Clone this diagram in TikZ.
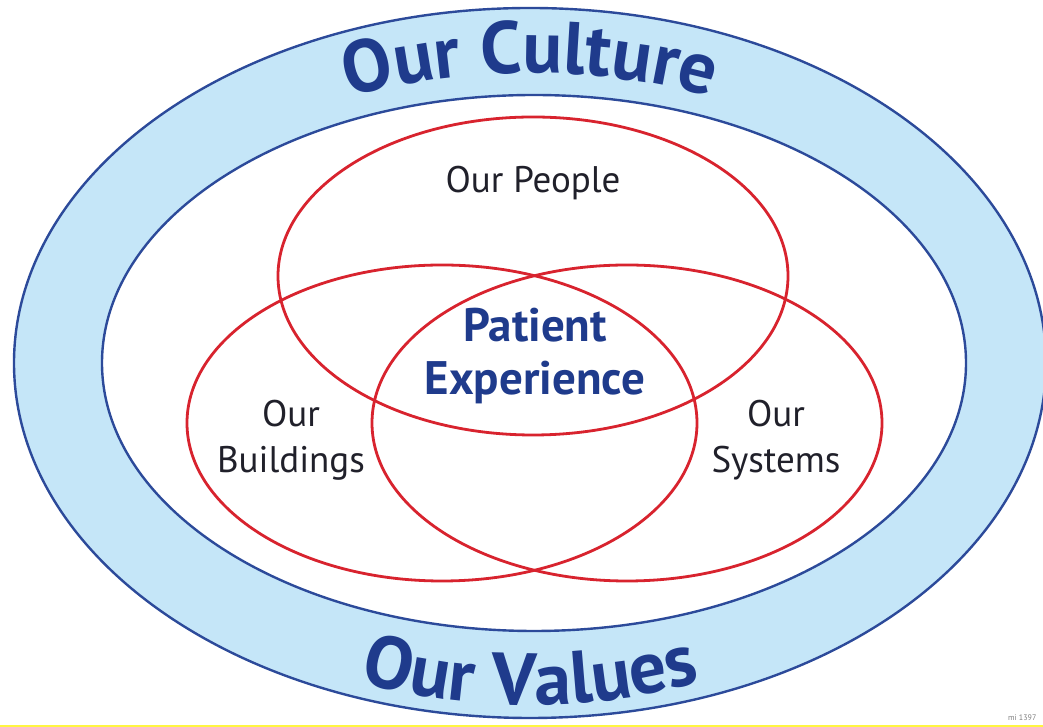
\documentclass[tikz,border=0pt]{standalone}
\usepackage{fontspec}
\setmainfont{PT Sans}
\usetikzlibrary{decorations.text}

\definecolor{ringfill}{HTML}{C5E6F8}
\definecolor{ringline}{HTML}{2C4A9A}
\definecolor{titleblue}{HTML}{1F3B8C}
\definecolor{vennred}{HTML}{D8232E}
\definecolor{labelink}{HTML}{20202A}

\tikzset{
  ringedge/.style={draw=ringline, line width=2.4pt},
  venn/.style={draw=vennred, line width=2.8pt},
  plainlabel/.style={text=labelink, font=\fontsize{37}{46}\selectfont, align=center, inner sep=0pt},
  corelabel/.style={text=titleblue, font=\fontsize{47}{53}\selectfont\bfseries, align=center, inner sep=0pt},
}

\newcommand{\ringtitle}{\color{titleblue}\fontsize{74}{80}\selectfont\bfseries}

\begin{document}
\begin{tikzpicture}[x=1pt,y=1pt]
  \useasboundingbox (0,0) rectangle (1043,727);
  \fill[white] (0,0) rectangle (1043,727);

  % culture ring: outer and inner boundaries
  \path[ringedge, fill=ringfill] (530,364) ellipse[x radius=516pt, y radius=355pt];
  \path[ringedge, fill=white] (534,364) ellipse[x radius=432pt, y radius=268pt];

  % curved titles in the ring
  \path[decorate, decoration={text along path, text align=center,
        text={|\ringtitle|Our Culture}}]
    (530,364) ++(160:455pt and 290pt)
    arc[start angle=160, end angle=20, x radius=455pt, y radius=290pt];
  \path[decorate, decoration={text along path, text align=center,
        text={|\ringtitle|Our Values}}]
    (530,364) ++(200:470pt and 342pt)
    arc[start angle=200, end angle=340, x radius=470pt, y radius=342pt];

  % three overlapping circles
  \draw[venn] (533,451) ellipse[x radius=255pt, y radius=159pt];
  \draw[venn] (442,304) ellipse[x radius=255pt, y radius=158pt];
  \draw[venn] (627,304) ellipse[x radius=255pt, y radius=158pt];

  % labels (base anchor sits on the last line)
  \node[plainlabel, anchor=base] (lblpeople) at (533,534) {Our People};
  \node[plainlabel, anchor=base] (lblbuild) at (291,254) {Our\\Buildings};
  \node[plainlabel, anchor=base] (lblsys) at (776,254) {Our\\Systems};
  \node[corelabel, anchor=base] (lblcore) at (535,332) {Patient\\Experience};

  % print reference in the corner
  \node[text=gray, font=\fontsize{8}{9}\selectfont, anchor=base west, inner sep=0pt] (code) at (1008,6) {mi 1397};

  % thin yellow rule along the bottom edge
  \draw[yellow!75, line width=2.5pt] (0,1.2) -- (1043,1.2);
\end{tikzpicture}
\end{document}
